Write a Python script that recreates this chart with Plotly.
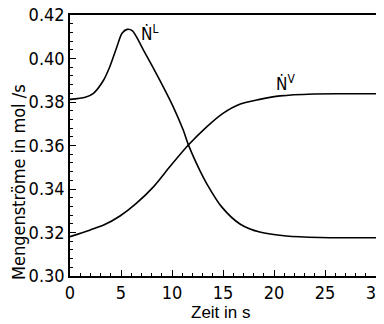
import plotly.graph_objects as go

# Time axis values (s) and flow values (mol/s)
t_L = [0, 1.5, 2.3, 3.3, 3.9, 4.6, 5.1, 5.6, 6.1, 7.2, 8.8, 10.1, 11.1, 11.6,
       12.7, 13.4, 14.85, 16.7, 18.6, 21.2, 24.5, 30]
N_L = [0.3812, 0.3822, 0.3840, 0.3901, 0.3962, 0.4054, 0.4116, 0.4134, 0.4128,
       0.4039, 0.3901, 0.3780, 0.3671, 0.3604, 0.3488, 0.3425, 0.3319, 0.3238,
       0.3202, 0.3184, 0.3177, 0.3176]

t_V = [0, 2.0, 3.3, 4.9, 6.5, 8.2, 9.8, 11.6, 13.4, 15.0, 16.7, 18.6, 20.6,
       23.9, 27, 30]
N_V = [0.3181, 0.3212, 0.3234, 0.3276, 0.3334, 0.3411, 0.3503, 0.3602, 0.3686,
       0.3748, 0.3791, 0.3812, 0.3828, 0.3837, 0.3838, 0.3838]

x_ticks = [0, 5, 10, 15, 20, 25, 30]
y_ticks = [0.30, 0.32, 0.34, 0.36, 0.38, 0.40, 0.42]

labels = ["Ṅ<sup>L</sup>", "Ṅ<sup>V</sup>"]
label_pos = [(6.8, 0.4117), (20.0, 0.3887)]

x_title = "Zeit in s"
y_title = "Mengenströme in mol /s"

narrow = "DejaVu Sans Condensed, Liberation Sans Narrow, sans-serif"
regular = "Liberation Sans, Arial, sans-serif"

fig = go.Figure()
fig.add_trace(go.Scatter(x=t_L, y=N_L, mode="lines",
                         line=dict(color="black", width=1.6, shape="spline", smoothing=0.8),
                         showlegend=False))
fig.add_trace(go.Scatter(x=t_V, y=N_V, mode="lines",
                         line=dict(color="black", width=1.6, shape="spline", smoothing=0.8),
                         showlegend=False))

for txt, (lx, ly) in zip(labels, label_pos):
    fig.add_annotation(x=lx, y=ly, text=txt, showarrow=False, xanchor="left",
                       yanchor="middle",
                       font=dict(family=narrow, size=17, color="black"))

fig.add_annotation(xref="paper", yref="paper", x=0.493, y=0, yshift=-36,
                   text=x_title, showarrow=False, xanchor="center", yanchor="middle",
                   font=dict(family=regular, size=17, color="black"))
fig.add_annotation(xref="paper", yref="paper", x=0, y=0.36, xshift=-52,
                   text=y_title, showarrow=False, textangle=-90,
                   xanchor="center", yanchor="middle",
                   font=dict(family=narrow, size=18, color="black"))

fig.update_xaxes(range=[0, 30], tickvals=x_ticks, ticktext=[str(v) for v in x_ticks],
                 ticks="inside", ticklen=6, tickwidth=1.2, tickcolor="black",
                 minor=dict(dtick=1, ticks="inside", ticklen=3, tickcolor="black", tickwidth=1),
                 showline=True, linecolor="black", linewidth=1.5, mirror=True,
                 showgrid=False, zeroline=False, automargin=False,
                 ticklabeloverflow="allow",
                 tickfont=dict(family=narrow, size=18, color="black"))
fig.update_yaxes(range=[0.30, 0.42], tickvals=y_ticks, ticktext=[f"{v:.2f}" for v in y_ticks],
                 ticks="inside", ticklen=6, tickwidth=1.2, tickcolor="black",
                 minor=dict(dtick=0.004, ticks="inside", ticklen=3, tickcolor="black", tickwidth=1),
                 showline=True, linecolor="black", linewidth=1.5, mirror=True,
                 showgrid=False, zeroline=False, automargin=False,
                 ticklabeloverflow="allow",
                 tickfont=dict(family=narrow, size=18, color="black"))

# the page body adds an 8 px offset, so the figure is sized to fit the window
fig.update_layout(width=376, height=316, margin=dict(l=62, r=8, t=7, b=48),
                  plot_bgcolor="white", paper_bgcolor="white")

fig.write_html("out.html")
